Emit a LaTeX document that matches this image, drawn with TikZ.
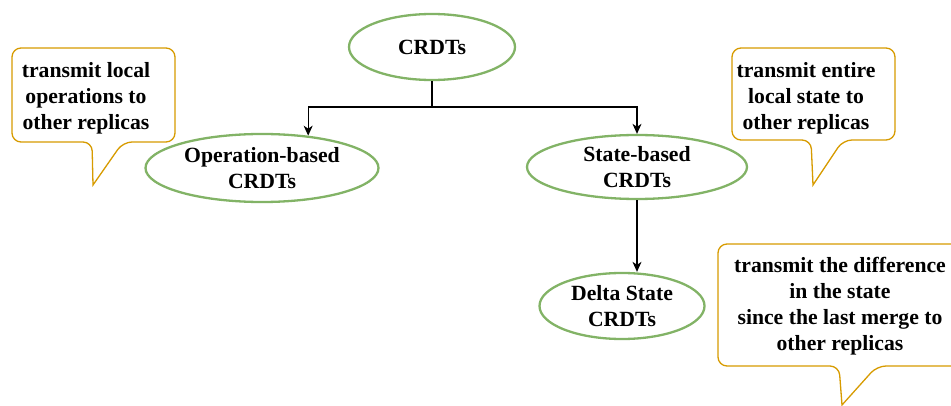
\documentclass[tikz,border=0pt]{standalone}
\usepackage{fontspec}
\setmainfont{Liberation Serif}
\usepackage{xcolor}
\usetikzlibrary{shapes.geometric, arrows.meta}

\definecolor{leafgreen}{HTML}{82B366}
\definecolor{noteorange}{HTML}{D79B00}

\begin{document}
\begin{tikzpicture}[x=1pt, y=-1pt, >={Stealth[length=10pt, width=9pt, inset=3pt]},
    crdt/.style={ellipse, draw=leafgreen, line width=2.3pt, inner sep=0pt,
        align=center, font=\fontsize{21.7}{26}\selectfont\bfseries},
    note/.style={draw=noteorange, line width=1.3pt, fill=white},
    notetext/.style={align=center, font=\fontsize{21.7}{26}\selectfont\bfseries}]
    \useasboundingbox (0,0) rectangle (951,406);

    % 1. Các nút CRDT
    \node[crdt, minimum width=166pt, minimum height=66pt] (crdts) at (432,47) {CRDTs};
    \node[crdt, minimum width=233pt, minimum height=68pt] (op) at (262,168) {Operation-based\\CRDTs};
    \node[crdt, minimum width=220pt, minimum height=64pt] (st) at (637,167) {State-based\\CRDTs};
    \node[crdt, minimum width=165pt, minimum height=66pt] (delta) at (622,306) {Delta State\\CRDTs};

    % 2. Các mũi tên
    \coordinate (split) at (432,107);
    \draw[line width=1.2pt] (crdts) -- (split);
    \draw[->, line width=1.2pt] (split) -| (op.35);
    \draw[->, line width=1.2pt] (split) -| (st);
    \draw[->, line width=1.2pt] (st) -- (st |- delta.north);

    % 3. Các ô ghi chú
    % ghi chú bên trái
    \draw[note, rounded corners=9pt] (12,48) -- (175,48) -- (175,142) -- (123,142)
        [sharp corners] -- (93,185) [rounded corners=9pt] -- (92,142) -- (12,142) -- cycle;
    \node[notetext] (opnote) at (86,98) {transmit local\\operations to\\other replicas};

    % ghi chú bên phải
    \draw[note, rounded corners=9pt] (732,48) -- (895,48) -- (895,140) -- (843,140)
        [sharp corners] -- (813,185) [rounded corners=9pt] -- (811,140) -- (732,140) -- cycle;
    \node[notetext] (stnote) at (806,98) {transmit entire\\local state to\\other replicas};

    % ghi chú dưới cùng
    \draw[note, rounded corners=9pt] (718,244) -- (975,244) -- (975,366) -- (877,366)
        [sharp corners] -- (842,405) [rounded corners=9pt] -- (839,366) -- (718,366) -- cycle;
    \node[notetext] (deltanote) at (840,306) {transmit the difference\\in the state\\since the last merge to\\other replicas};
\end{tikzpicture}
\end{document}
